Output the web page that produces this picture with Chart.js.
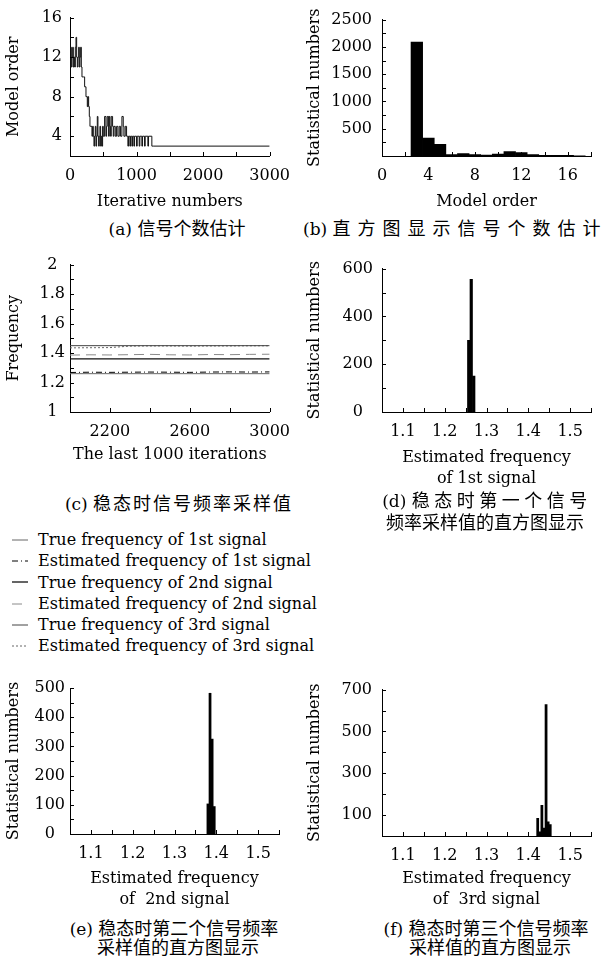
<!DOCTYPE html>
<html>
<head>
<meta charset="utf-8">
<script src="https://cdn.jsdelivr.net/npm/chart.js@4.4.0/dist/chart.umd.min.js"></script>
<style>
body { margin: 0; background: #fff; width: 604px; height: 962px; position: relative; overflow: hidden; font-family: "DejaVu Serif", serif; color: #000; }
canvas { position: absolute; }
.cap { position: absolute; white-space: nowrap; font-size: 17px; line-height: 20px; transform: translate(-50%, -50%); }
.cap .zh { font-family: "Noto Sans CJK SC", sans-serif; font-size: 18px; }
#legend { position: absolute; left: 10px; top: 529px; font-size: 16px; }
#legend div { height: 21.3px; line-height: 21.3px; display: flex; align-items: center; white-space: nowrap; }
#legend svg { width: 20px; height: 10px; margin-right: 8px; }
</style>
</head>
<body>
<canvas id="cA"></canvas>
<canvas id="cB"></canvas>
<canvas id="cC"></canvas>
<canvas id="cD"></canvas>
<canvas id="cE"></canvas>
<canvas id="cF"></canvas>

<div class="cap" style="left:177px;top:228px">(a) <span class="zh">信号个数估计</span></div>
<div class="cap" style="left:303px;top:228px;transform:translateY(-50%)">(b) <span class="zh" style="letter-spacing:7px">直方图显示信号个数估计</span></div>
<div class="cap" style="left:179px;top:503px">(c) <span class="zh" style="letter-spacing:2px">稳态时信号频率采样值</span></div>
<div class="cap" style="left:487px;top:500px">(d) <span class="zh" style="letter-spacing:4.5px">稳态时第一个信号</span></div>
<div class="cap" style="left:485px;top:522px"><span class="zh">频率采样值的直方图显示</span></div>
<div class="cap" style="left:174px;top:928px">(e) <span class="zh">稳态时第二个信号频率</span></div>
<div class="cap" style="left:178px;top:947px"><span class="zh">采样值的直方图显示</span></div>
<div class="cap" style="left:486px;top:928px">(f) <span class="zh">稳态时第三个信号频率</span></div>
<div class="cap" style="left:490px;top:947px"><span class="zh">采样值的直方图显示</span></div>
<div id="legend"></div>

<script>
// (a) estimated model order along the iterations
const iterA = [0,10,20,30,40,50,60,70,80,90,100,110,120,130,140,150,160,170,180,200,220,240,260,270,280,290,
  300,310,330,340,350,360,370,380,390,400,410,420,430,440,450,460,470,480,490,500,520,540,550,560,580,590,
  600,610,620,640,650,660,680,700,720,740,760,780,800,810,830,850,870,880,900,910,930,940,960,970,
  1000,1010,1040,1050,1080,1090,1120,1130,1170,1180,1230,1250,3000];
const orderA = [14,11,13,11,12,13,11,12,11,13,14,12,11,12,13,11,12,13,11,10,10,9,8,7,8,7,
  6,5,5,4,5,4,3,4,5,3,4,6,4,3,4,5,3,4,3,5,4,6,4,5,6,4,
  6,5,4,6,5,4,5,4,5,4,5,4,6,5,4,5,4,3,4,3,4,3,4,3,
  4,3,4,3,4,3,4,3,4,3,4,3,3];

// (b) histogram of model order
const orderBins = [3,4,5,6,7,8,9,10,11,12,13,14,15,16,17];
const countB = [2090,330,215,28,45,28,17,34,80,62,28,10,10,10,5];

// (c) last 1000 iterations
const iterC = [2000,2100,2200,2300,2400,2500,2600,2700,2800,2900,3000];
const trueFreq = [1.26, 1.36, 1.45];
const est1 = [1.268,1.270,1.269,1.270,1.271,1.270,1.269,1.271,1.272,1.271,1.272];
const est2 = [1.386,1.388,1.387,1.389,1.391,1.388,1.387,1.390,1.389,1.391,1.392];
const est3 = [1.435,1.436,1.437,1.447,1.448,1.448,1.447,1.448,1.448,1.449,1.449];
const seriesNames = ['True frequency of 1st signal', 'Estimated frequency of 1st signal',
  'True frequency of 2nd signal', 'Estimated frequency of 2nd signal',
  'True frequency of 3rd signal', 'Estimated frequency of 3rd signal'];

// (d)(e)(f) histograms of estimated frequencies
const freqD = [1.2575, 1.2635, 1.2695];
const countD = [300, 555, 150];
const freqE = [1.380, 1.385, 1.390, 1.395];
const countE = [103, 482, 325, 94];
const freqF = [1.4225, 1.4275, 1.4325, 1.4375, 1.4425, 1.4475, 1.4525];
const countF = [84, 20, 147, 38, 628, 68, 55];

// line styles for (c), same order as seriesNames
const lineStyles = [
  {color: '#666', width: 1, dash: []},
  {color: '#000', width: 1, dash: [6, 3, 1, 3]},
  {color: '#111', width: 1.3, dash: []},
  {color: '#8a8a8a', width: 1, dash: [10, 6]},
  {color: '#444', width: 1, dash: []},
  {color: '#666', width: 1, dash: [2, 2]}
];

Chart.defaults.font.family = '"DejaVu Serif", serif';
Chart.defaults.font.size = 16;
Chart.defaults.color = '#000';
Chart.defaults.animation = false;
Chart.defaults.plugins.legend.display = false;
Chart.defaults.plugins.tooltip.enabled = false;

// short tick marks pointing into the plot
const inwardTicks = {
  id: 'inwardTicks',
  afterDatasetsDraw(chart) {
    const {ctx, chartArea} = chart;
    ctx.save();
    ctx.strokeStyle = '#000';
    ctx.lineWidth = 1;
    Object.values(chart.scales).forEach(s => {
      s.ticks.forEach(t => {
        const p = Math.round(s.getPixelForValue(t.value)) + 0.5;
        ctx.beginPath();
        if (s.isHorizontal()) {
          ctx.moveTo(p, chartArea.bottom);
          ctx.lineTo(p, chartArea.bottom - 4);
        } else {
          ctx.moveTo(chartArea.left, p);
          ctx.lineTo(chartArea.left + 4, p);
        }
        ctx.stroke();
      });
    });
    ctx.restore();
  }
};

function axis(c) {
  return {
    type: 'linear', min: c.min, max: c.max, offset: false,
    grid: {display: false, drawTicks: false},
    border: {display: true, color: '#000', width: 1},
    ticks: {
      stepSize: c.step, autoSkip: false, maxRotation: 0, padding: c.pad,
      crossAlign: c.cross || 'near',
      callback: v => c.show(v) ? c.fmt(v) : ''
    },
    title: {display: true, text: c.title, padding: c.tpad || {top: 0, bottom: 0},
      font: {size: 16, lineHeight: c.lh || 1.2}},
    afterFit: s => { if (s.isHorizontal()) s.height = c.size; else s.width = c.size; }
  };
}

function makeChart(id, box, area, type, datasets, xs, ys) {
  const cv = document.getElementById(id);
  cv.width = box.w; cv.height = box.h;
  cv.style.left = box.x + 'px'; cv.style.top = box.y + 'px';
  xs.size = box.y + box.h - area.bottom;
  ys.size = area.left - box.x;
  return new Chart(cv, {
    type: type,
    data: {datasets: datasets},
    options: {
      responsive: false,
      layout: {padding: {left: 0, top: area.top - box.y, right: box.x + box.w - area.right, bottom: 0}},
      scales: {x: axis(xs), y: axis(ys)}
    },
    plugins: [inwardTicks]
  });
}

const pts = (xs, ys) => xs.map((x, i) => ({x: x, y: ys[i]}));
const histSet = (xs, ys) => ({
  data: pts(xs, ys), backgroundColor: '#000', borderWidth: 0,
  barPercentage: 1, categoryPercentage: 1
});
const fmtFreq = v => v.toFixed(1);
const freqTick = v => Math.round(v * 20) % 2 === 0;
const leftTitle = {top: 4, bottom: 0};
const rightTitle = {top: 5, bottom: 0};

// (a)
makeChart('cA', {x: 0, y: 0, w: 300, h: 211}, {left: 70, top: 15, right: 280, bottom: 156}, 'line',
  [{data: pts(iterA, orderA), borderColor: '#111', borderWidth: 1, stepped: 'after', pointRadius: 0}],
  {min: 0, max: 3000, step: 500, show: v => v % 1000 === 0, fmt: v => v, pad: 10, title: 'Iterative numbers'},
  {min: 2, max: 16, step: 2, show: v => v % 4 === 0, fmt: v => v, pad: 8, title: 'Model order', tpad: leftTitle});

// (b)
makeChart('cB', {x: 300, y: 0, w: 304, h: 211}, {left: 382, top: 10, right: 591, bottom: 156}, 'bar',
  [histSet(orderBins, countB)],
  {min: 0, max: 18, step: 2, show: v => v % 4 === 0 && v <= 16, fmt: v => v, pad: 10, title: 'Model order'},
  {min: 0, max: 2500, step: 250, show: v => v % 500 === 0 && v > 0, fmt: v => v, pad: 10,
    title: 'Statistical numbers', tpad: rightTitle});

// (c)
const setsC = seriesNames.map((name, i) => {
  const k = Math.floor(i / 2);
  const ys = i % 2 === 0 ? [trueFreq[k], trueFreq[k]] : [est1, est2, est3][k];
  const xs = i % 2 === 0 ? [iterC[0], iterC[iterC.length - 1]] : iterC;
  const st = lineStyles[i];
  return {label: name, data: pts(xs, ys), borderColor: st.color, borderWidth: st.width,
    borderDash: st.dash, pointRadius: 0, tension: 0};
});
makeChart('cC', {x: 0, y: 250, w: 300, h: 214}, {left: 70, top: 264, right: 280, bottom: 412}, 'line', setsC,
  {min: 2000, max: 3000, step: 200, show: v => v === 2200 || v === 2600 || v === 3000, fmt: v => v, pad: 10,
    title: 'The last 1000 iterations'},
  {min: 1, max: 2, step: 0.1, show: v => Math.round(v * 10) % 2 === 0, fmt: v => String(+v.toFixed(1)),
    pad: 5, cross: 'center', title: 'Frequency', tpad: leftTitle});

// (d)
makeChart('cD', {x: 300, y: 250, w: 304, h: 239}, {left: 382, top: 263, right: 591, bottom: 412}, 'bar',
  [histSet(freqD, countD)],
  {min: 1.05, max: 1.55, step: 0.05, show: freqTick, fmt: fmtFreq, pad: 10,
    title: ['Estimated frequency', 'of 1st signal'], lh: 1.3},
  {min: 0, max: 600, step: 100, show: v => v % 200 === 0, fmt: v => v, pad: 9, cross: 'center',
    title: 'Statistical numbers', tpad: rightTitle});

// (e)
makeChart('cE', {x: 0, y: 670, w: 300, h: 240}, {left: 70, top: 688, right: 279, bottom: 834}, 'bar',
  [histSet(freqE, countE)],
  {min: 1.05, max: 1.55, step: 0.05, show: freqTick, fmt: fmtFreq, pad: 10,
    title: ['Estimated frequency', 'of  2nd signal'], lh: 1.3},
  {min: 0, max: 500, step: 50, show: v => v % 100 === 0, fmt: v => v, pad: 5, cross: 'center',
    title: 'Statistical numbers', tpad: leftTitle});

// (f)
makeChart('cF', {x: 300, y: 670, w: 304, h: 240}, {left: 382, top: 688, right: 591, bottom: 836}, 'bar',
  [histSet(freqF, countF)],
  {min: 1.05, max: 1.55, step: 0.05, show: freqTick, fmt: fmtFreq, pad: 10,
    title: ['Estimated frequency', 'of  3rd signal'], lh: 1.3},
  {min: 0, max: 700, step: 100, show: v => v % 200 === 100, fmt: v => v, pad: 10,
    title: 'Statistical numbers', tpad: rightTitle});

// legend for (c)
const legend = document.getElementById('legend');
seriesNames.forEach((name, i) => {
  const st = lineStyles[i];
  const row = document.createElement('div');
  row.innerHTML = '<svg viewBox="0 0 20 10"><line x1="2" y1="5" x2="18" y2="5" stroke="' + st.color +
    '" stroke-width="' + st.width + '" stroke-dasharray="' + (st.dash.length ? st.dash.join(' ') : 'none') +
    '"/></svg><span>' + name + '</span>';
  legend.appendChild(row);
});
</script>
</body>
</html>
